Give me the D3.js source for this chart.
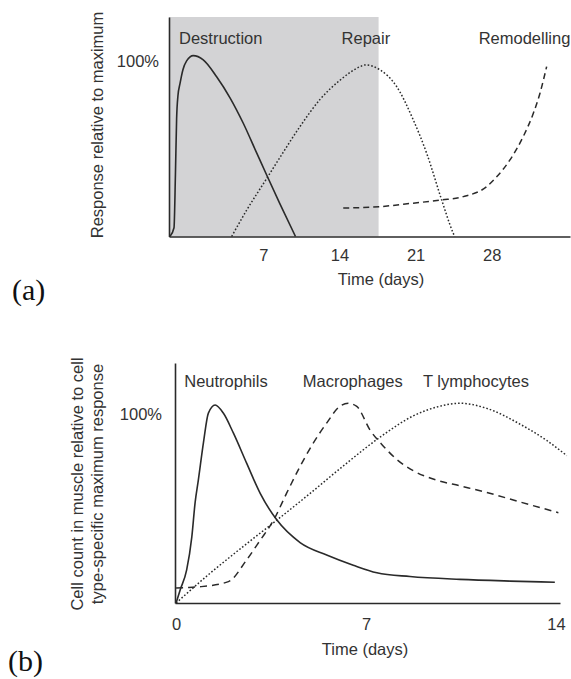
<!doctype html>
<html>
<head>
<meta charset="utf-8">
<title>Muscle injury response</title>
<script src="https://cdn.jsdelivr.net/npm/d3@7"></script>
<style>
    body { margin: 0; background: #fff; }
    svg text { font-family: "Liberation Sans", Arial, Helvetica, sans-serif; fill: #333; }
    .panel-tag { font-family: "Liberation Serif", "Times New Roman", serif !important; fill: #111 !important; }
</style>
</head>
<body>
<svg width="571" height="679"></svg>
<script>
// ---- panel (a): phases of muscle regeneration (days, fraction of max) ----
let destructionDays = [-1.58, -1.21, -1.08, -0.97, -0.85, -0.66, -0.39, -0.05, 0.56, 1.48, 2.71, 3.94, 5.16, 6.39, 7.31, 8.53, 9.96]
let destructionVals = [0, 0.05, 0.35, 0.67, 0.80, 0.87, 0.95, 1.0, 1.03, 1.006, 0.91, 0.79, 0.645, 0.476, 0.35, 0.186, 0]
let repairDays = [4.09, 5.47, 7.31, 8.53, 10.37, 12.21, 14.05, 15.89, 16.35, 17.73, 19.26, 20.79, 22.02, 23.40, 24.47, 24.6]
let repairVals = [0, 0.15, 0.33, 0.45, 0.626, 0.78, 0.89, 0.967, 0.977, 0.949, 0.854, 0.664, 0.474, 0.208, 0.018, 0]
let remodelDays = [14.35, 17.73, 20.79, 23.40, 25.39, 27.54, 28.46, 29.68, 30.90, 31.82, 32.44, 33.05]
let remodelVals = [0.162, 0.17, 0.19, 0.208, 0.227, 0.284, 0.34, 0.436, 0.569, 0.70, 0.816, 0.967]
let shadeEndDay = 17.6
let ticksA = [7, 14, 21, 28]
let phaseLabels = ["Destruction", "Repair", "Remodelling"]
let phaseLabelDays = [-0.75, 14.2, 26.8]

// ---- panel (b): cell counts ----
let cellDays = {
    neutro: [0, 0.15, 0.39, 0.58, 0.70, 0.82, 1.01, 1.19, 1.44, 1.74, 2.11, 2.60, 3.10, 3.71, 4.57, 5.55, 6.53, 7.40, 8.62, 10.46, 12.31, 13.96],
    macro: [0, 0.41, 0.88, 1.93, 2.60, 3.09, 3.60, 4.07, 4.56, 5.05, 5.54, 6.03, 6.34, 6.66, 7.15, 7.64, 8.13, 8.74, 9.61, 10.46, 11.45, 12.67, 14.09],
    tcell: [0, 1.25, 2.48, 3.77, 4.94, 6.16, 7.58, 8.74, 9.61, 10.46, 11.45, 12.67, 13.66, 14.40]
}
let neutroVals = [0, 0.069, 0.175, 0.35, 0.53, 0.65, 0.85, 1.005, 1.048, 1.005, 0.90, 0.74, 0.58, 0.44, 0.32, 0.254, 0.20, 0.16, 0.14, 0.125, 0.116, 0.11]
let macroVals = [0.08, 0.082, 0.086, 0.113, 0.228, 0.33, 0.44, 0.58, 0.72, 0.845, 0.95, 1.04, 1.057, 1.04, 0.915, 0.83, 0.76, 0.70, 0.65, 0.62, 0.585, 0.535, 0.478]
let tcellVals = [0, 0.157, 0.30, 0.445, 0.58, 0.725, 0.884, 0.99, 1.037, 1.057, 1.03, 0.947, 0.86, 0.78]
let ticksB = [0, 7, 14]
let cellLabels = ["Neutrophils", "Macrophages", "T lymphocytes"]
let cellLabelDays = [0.3, 4.67, 9.1]

let svg = d3.select("svg")
let ink = "#2a2a2a"

function zip(xs, ys) { return xs.map((x, i) => [x, ys[i]]) }

function drawPanel(opt) {
    let g = svg.append("g")
    let x = d3.scaleLinear().domain(opt.xDomain).range(opt.xRange)
    let y = d3.scaleLinear().domain(opt.yDomain).range(opt.yRange)

    if (opt.shade != null) {
        g.append("rect")
            .attr("x", x(opt.xDomain[0]))
            .attr("y", y(opt.yDomain[1]))
            .attr("width", x(opt.shade) - x(opt.xDomain[0]))
            .attr("height", y(0) - y(opt.yDomain[1]))
            .attr("fill", "#d3d3d5")
    }

    let line = d3.line()
        .x(d => x(d[0]))
        .y(d => y(d[1]))
        .curve(d3.curveMonotoneX)

    opt.series.forEach(s => {
        g.append("path")
            .datum(s.pts)
            .attr("d", line)
            .attr("fill", "none")
            .attr("stroke", ink)
            .attr("stroke-width", s.w)
            .attr("stroke-dasharray", s.dash)
    })

    // axes
    let xAxis = g.append("g")
        .attr("transform", "translate(0," + y(0) + ")")
        .call(d3.axisBottom(x).tickValues(opt.ticks).tickSize(0).tickPadding(opt.xPad).tickFormat(d3.format("d")))
    let yAxis = g.append("g")
        .attr("transform", "translate(" + x(opt.xDomain[0]) + ",0)")
        .call(d3.axisLeft(y).tickValues([1]).tickSize(0).tickPadding(opt.yPad).tickFormat(() => "100%"))
    ;[xAxis, yAxis].forEach(a => {
        a.select(".domain").attr("stroke", ink).attr("stroke-width", 1.6)
        a.selectAll("text").attr("font-size", 16.5).attr("fill", "#333")
            .style("font-family", "'Liberation Sans', Arial, sans-serif")
    })

    // top labels
    opt.labels.forEach((t, i) => {
        g.append("text")
            .attr("x", x(opt.labelDays[i]))
            .attr("y", opt.labelY)
            .attr("font-size", 16.5)
            .text(t)
    })

    g.append("text")
        .attr("x", opt.titleX)
        .attr("y", opt.titleY)
        .attr("text-anchor", "middle")
        .attr("font-size", 16.5)
        .text("Time (days)")

    opt.yTitle.forEach((t, i) => {
        g.append("text")
            .attr("transform", "translate(" + opt.yTitleX[i] + "," + opt.yTitleY + ") rotate(-90)")
            .attr("text-anchor", "middle")
            .attr("font-size", 16.5)
            .text(t)
    })

    svg.append("text")
        .attr("class", "panel-tag")
        .attr("x", opt.tagX)
        .attr("y", opt.tagY)
        .attr("font-size", 30)
        .text(opt.tag)
}

drawPanel({
    xDomain: [-1.67, 35.2], xRange: [169, 570],
    yDomain: [0, 1.25], yRange: [236.5, 17],
    shade: shadeEndDay,
    series: [
        {pts: zip(destructionDays, destructionVals), w: 1.6, dash: null},
        {pts: zip(repairDays, repairVals), w: 1.5, dash: "1.6,2"},
        {pts: zip(remodelDays, remodelVals), w: 1.5, dash: "6,4"}
    ],
    ticks: ticksA, xPad: 13, yPad: 10,
    labels: phaseLabels, labelDays: phaseLabelDays, labelY: 44,
    titleX: 381, titleY: 285,
    yTitle: ["Response relative to maximum"], yTitleX: [103], yTitleY: 125,
    tag: "(a)", tagX: 12, tagY: 300
})

drawPanel({
    xDomain: [-0.04, 14.15], xRange: [175, 560],
    yDomain: [0, 1.27], yRange: [603, 363],
    shade: null,
    series: [
        {pts: zip(cellDays.neutro, neutroVals), w: 1.6, dash: null},
        {pts: zip(cellDays.macro, macroVals), w: 1.5, dash: "7,5"},
        {pts: zip(cellDays.tcell, tcellVals), w: 1.5, dash: "1.6,2"}
    ],
    ticks: ticksB, xPad: 15, yPad: 13,
    labels: cellLabels, labelDays: cellLabelDays, labelY: 387,
    titleX: 365, titleY: 655,
    yTitle: ["Cell count in muscle relative to cell", "type-specific maximum response"],
    yTitleX: [83, 103], yTitleY: 484,
    tag: "(b)", tagX: 8, tagY: 671
})
</script>
</body>
</html>
